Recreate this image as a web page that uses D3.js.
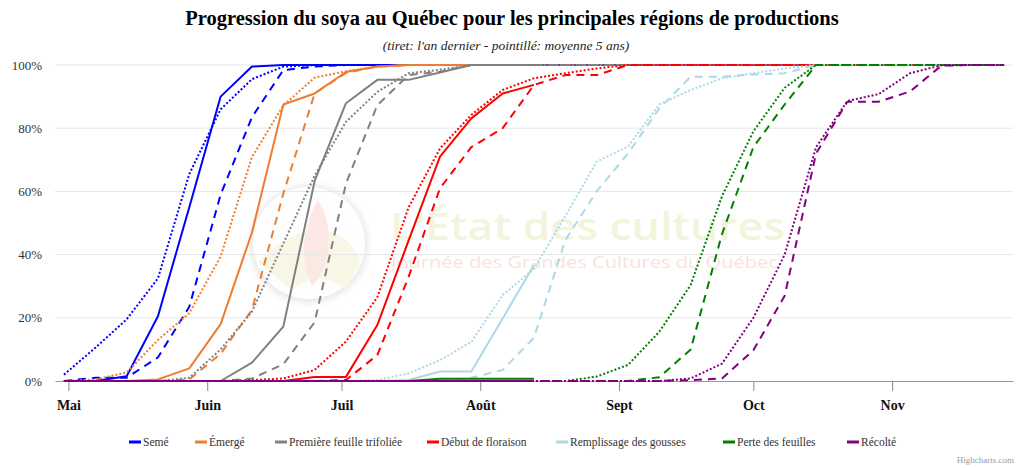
<!DOCTYPE html>
<html>
<head>
<meta charset="utf-8">
<script src="https://cdn.jsdelivr.net/npm/d3@7"></script>
<style>
  body { margin: 0; background: #fff; }
  svg { display: block; font-family: "Liberation Serif", "Times New Roman", serif; }
</style>
</head>
<body>
<svg id="chart" width="1024" height="468"></svg>
<script>
// Relevés hebdomadaires (un point par semaine)
var dates = ["2023-04-30", "2023-05-07", "2023-05-14", "2023-05-21", "2023-05-28",
  "2023-06-04", "2023-06-11", "2023-06-18", "2023-06-25", "2023-07-02", "2023-07-09",
  "2023-07-16", "2023-07-23", "2023-07-30", "2023-08-06", "2023-08-13", "2023-08-20",
  "2023-08-27", "2023-09-03", "2023-09-10", "2023-09-17", "2023-09-24", "2023-10-01",
  "2023-10-08", "2023-10-15", "2023-10-22", "2023-10-29", "2023-11-05", "2023-11-12",
  "2023-11-19", "2023-11-26"];

// Axe des x : un repère au début de chaque mois
var monthTicks = ["2023-05-01", "2023-06-01", "2023-07-01", "2023-08-01", "2023-09-01", "2023-10-01", "2023-11-01"];
var monthLabels = ["Mai", "Juin", "Juil", "Août", "Sept", "Oct", "Nov"];
var yTicks = [0, 20, 40, 60, 80, 100];

var phases = ["Semé", "Émergé", "Première feuille trifoliée", "Début de floraison",
  "Remplissage des gousses", "Perte des feuilles", "Récolté"];

// % cumulatif - année courante (trait plein), l'an dernier (tiret), moyenne 5 ans (pointillé)
var semeCourant = [0, 0, 1.5, 20.5, 55, 90, 99.5, 100, 100, 100, 100, 100, 100, 100, 100, 100];
var semeDernier = [0, 1, 1, 7.5, 23.5, 59, 83.5, 98.4, 99.5, 100, 100, 100, 100, 100, 100, 100,
  100, 100, 100, 100, 100, 100, 100, 100, 100, 100, 100, 100, 100, 100, 100];
var semeMoyenne = [2, 10.5, 19.5, 32.5, 65.5, 86, 95.5, 99.5, 100, 100, 100, 100, 100, 100, 100, 100,
  100, 100, 100, 100, 100, 100, 100, 100, 100, 100, 100, 100, 100, 100, 100];

var emergeCourant = [0, 0, 0, 0.5, 4, 18, 47, 87.5, 91, 97.8, 99.5, 100, 100, 100, 100, 100];
var emergeDernier = [0, 0, 0, 0, 0.5, 8.6, 22.5, 59.3, 91, 97.5, 99.5, 100, 100, 100, 100, 100,
  100, 100, 100, 100, 100, 100, 100, 100, 100, 100, 100, 100, 100, 100, 100];
var emergeMoyenne = [0, 0.5, 2.7, 13, 21.5, 39.4, 70.9, 87.2, 96, 98, 99.5, 100, 100, 100, 100, 100,
  100, 100, 100, 100, 100, 100, 100, 100, 100, 100, 100, 100, 100, 100, 100];

var feuilleCourant = [0, 0, 0, 0, 0, 0, 5.8, 17.2, 63.3, 87.9, 95.3, 95.3, 97.6, 100, 100, 100];
var feuilleDernier = [0, 0, 0, 0, 0, 0, 0.8, 5.3, 18.6, 62.5, 87.3, 96.8, 97.9, 100, 100, 100,
  100, 100, 100, 100, 100, 100, 100, 100, 100, 100, 100, 100, 100, 100, 100];
var feuilleMoyenne = [0, 0, 0, 0, 1, 10, 22, 43.5, 65, 82, 91.5, 97.4, 98.5, 100, 100, 100,
  100, 100, 100, 100, 100, 100, 100, 100, 100, 100, 100, 100, 100, 100, 100];

var floraisonCourant = [0, 0, 0, 0, 0, 0, 0, 0, 1.3, 1.3, 17.7, 44.5, 71, 83.1, 91, 93.7];
var floraisonDernier = [0, 0, 0, 0, 0, 0, 0, 0, 0, 0.3, 8.2, 33, 61, 74, 80, 93.7,
  96.8, 96.8, 100, 100, 100, 100, 100, 100, 100, 100, 100, 100, 100, 100, 100];
var floraisonMoyenne = [0, 0, 0, 0, 0, 0, 0.3, 0.8, 3.5, 12.5, 26.5, 55, 73.6, 84.2, 92.1, 95.8,
  97.4, 98.9, 100, 100, 100, 100, 100, 100, 100, 100, 100, 100, 100, 100, 100];

var gousseCourant = [0, 0, 0, 0, 0, 0, 0, 0, 0, 0, 0, 0.3, 3, 3, 19.8, 36.7];
var gousseDernier = [0, 0, 0, 0, 0, 0, 0, 0, 0, 0, 0, 0, 0, 1, 3.5, 13.7,
  44.6, 60, 72, 86.3, 96.3, 96.3, 97, 97.4, 100, 100, 100, 100, 100, 100, 100];
var gousseMoyenne = [0, 0, 0, 0, 0, 0, 0, 0, 0, 0, 0.3, 2.4, 6.6, 12.4, 27.2, 35.5,
  52.2, 69.4, 74.2, 87.5, 92.1, 95.8, 97.4, 98.9, 100, 100, 100, 100, 100, 100, 100];

var perteCourant = [0, 0, 0, 0, 0, 0, 0, 0, 0, 0, 0, 0, 0.7, 0.7, 0.7, 0.7];
var perteDernier = [0, 0, 0, 0, 0, 0, 0, 0, 0, 0, 0, 0, 0, 0, 0, 0,
  0, 0, 0, 1.2, 10, 46.5, 74, 87.5, 100, 100, 100, 100, 100, 100, 100];
var perteMoyenne = [0, 0, 0, 0, 0, 0, 0, 0, 0, 0, 0, 0, 0, 0, 0, 0,
  0, 1.4, 5.1, 15.6, 30.4, 58.5, 79, 92.8, 100, 100, 100, 100, 100, 100, 100];

var recolteCourant = [0, 0, 0, 0, 0, 0, 0, 0, 0, 0, 0, 0, 0, 0, 0, 0];
var recolteDernier = [0, 0, 0, 0, 0, 0, 0, 0, 0, 0, 0, 0, 0, 0, 0, 0,
  0, 0, 0, 0, 0.3, 0.8, 9.7, 27, 72, 88.4, 88.4, 91.6, 99.8, 100, 100];
var recolteMoyenne = [0, 0, 0, 0, 0, 0, 0, 0, 0, 0, 0, 0, 0, 0, 0, 0,
  0, 0, 0, 0, 0.8, 5.5, 20, 40, 74, 88.6, 90.8, 97.4, 99.9, 100, 100];

var colors = ["#0000ff", "#ed7d31", "#808080", "#ff0000", "#add8e6", "#008000", "#800080"];

// Position des éléments de la légende
var legendX = [129, 195, 275, 427, 556, 723, 847];

var valeurs = [
  [semeCourant, semeDernier, semeMoyenne],
  [emergeCourant, emergeDernier, emergeMoyenne],
  [feuilleCourant, feuilleDernier, feuilleMoyenne],
  [floraisonCourant, floraisonDernier, floraisonMoyenne],
  [gousseCourant, gousseDernier, gousseMoyenne],
  [perteCourant, perteDernier, perteMoyenne],
  [recolteCourant, recolteDernier, recolteMoyenne]
];
var dashes = [null, "8,6", "2,2"];

var parse = d3.timeParse("%Y-%m-%d");
var svg = d3.select("svg#chart");

// Échelles
var x = d3.scaleTime()
  .domain([parse("2023-04-28"), parse("2023-11-28")])
  .range([55, 1013]);
var y = d3.scaleLinear()
  .domain([0, 100])
  .range([381, 65]);

// Filigrane (logo + texte), très pâle
var defs = svg.append("defs");
defs.append("filter").attr("id", "flou")
  .append("feGaussianBlur").attr("stdDeviation", 3);

var wm = svg.append("g").attr("class", "watermark");
wm.append("circle")
  .attr("cx", 309).attr("cy", 244).attr("r", 59)
  .attr("fill", "#e9e9e9")
  .attr("filter", "url(#flou)");
wm.append("circle")
  .attr("cx", 309).attr("cy", 243).attr("r", 56)
  .attr("fill", "#fefefe");
wm.append("path")
  .attr("d", "M258,262 Q286,232 318,230 Q350,232 360,262 L346,290 Q320,268 292,290 Z")
  .attr("fill", "#f8f7e6");
wm.append("path")
  .attr("d", "M318,200 Q334,224 326,262 Q320,280 312,286 Q300,262 306,232 Q310,212 318,200 Z")
  .attr("fill", "#fbe8e4");
wm.append("text")
  .attr("x", 390).attr("y", 240)
  .attr("textLength", 395)
  .attr("lengthAdjust", "spacingAndGlyphs")
  .style("font-family", "'Open Sans', sans-serif")
  .style("font-weight", 600)
  .style("font-size", "38px")
  .attr("fill", "#f4f3dc")
  .text("L'État des cultures");
wm.append("text")
  .attr("x", 391).attr("y", 268)
  .attr("textLength", 387)
  .attr("lengthAdjust", "spacingAndGlyphs")
  .style("font-family", "'Open Sans', sans-serif")
  .style("font-size", "16px")
  .attr("fill", "#fbe2dc")
  .text("Journée des Grandes Cultures du Québec");

// Lignes de grille
svg.append("g").selectAll("line.grid")
  .data(yTicks.filter(d => d > 0))
  .enter().append("line")
  .attr("class", "grid")
  .attr("x1", 55).attr("x2", 1013)
  .attr("y1", d => y(d)).attr("y2", d => y(d))
  .attr("stroke", "#e6e6e6");

// Axe des y
var yAxis = svg.append("g")
  .attr("transform", "translate(55,0)")
  .call(d3.axisLeft(y).tickValues(yTicks).tickFormat(d => d + "%").tickSize(0).tickPadding(13));
yAxis.select(".domain").remove();
yAxis.selectAll("text")
  .style("font-family", "'Liberation Serif', serif")
  .style("font-size", "13px")
  .attr("fill", "#333");

// Axe des x
var xAxis = svg.append("g")
  .attr("transform", "translate(0,381)")
  .call(d3.axisBottom(x).tickValues(monthTicks.map(parse)).tickFormat((d, i) => monthLabels[i]).tickSize(10).tickPadding(9).tickSizeOuter(0));
xAxis.select(".domain").attr("stroke", "#999");
xAxis.selectAll(".tick line").attr("stroke", "#888");
xAxis.selectAll("text")
  .style("font-family", "'Liberation Serif', serif")
  .style("font-size", "14px")
  .style("font-weight", "bold")
  .attr("fill", "#111");

// Séries
var line = d3.line()
  .x((d, i) => x(parse(dates[i])))
  .y(d => y(d));

var series = [];
phases.forEach(function(p, k) {
  valeurs[k].forEach(function(v, j) {
    series.push({ name: p, color: colors[k], dash: dashes[j], values: v });
  });
});

svg.append("g").selectAll("path.serie")
  .data(series)
  .enter().append("path")
  .attr("class", "serie")
  .attr("d", d => line(d.values))
  .attr("fill", "none")
  .attr("stroke", d => d.color)
  .attr("stroke-width", 2)
  .attr("stroke-linejoin", "round")
  .attr("stroke-dasharray", d => d.dash);

// Légende
var legend = svg.append("g").selectAll("g.legend")
  .data(phases)
  .enter().append("g")
  .attr("class", "legend")
  .attr("transform", (d, i) => "translate(" + legendX[i] + ",442)");
legend.append("line")
  .attr("x1", 0).attr("x2", 12)
  .attr("stroke", (d, i) => colors[i])
  .attr("stroke-width", 3);
legend.append("text")
  .attr("x", 14).attr("y", 4)
  .style("font-size", "11.5px")
  .attr("fill", "#333")
  .text(d => d);

// Titres
svg.append("text")
  .attr("x", 512).attr("y", 25)
  .attr("text-anchor", "middle")
  .style("font-size", "20.5px")
  .style("font-weight", "bold")
  .attr("fill", "#000")
  .text("Progression du soya au Québec pour les principales régions de productions");
svg.append("text")
  .attr("x", 506).attr("y", 50)
  .attr("text-anchor", "middle")
  .style("font-size", "13.5px")
  .style("font-style", "italic")
  .attr("fill", "#222")
  .text("(tiret: l'an dernier - pointillé: moyenne 5 ans)");

svg.append("text")
  .attr("x", 1014).attr("y", 463)
  .attr("text-anchor", "end")
  .style("font-size", "9px")
  .attr("fill", "#999")
  .text("Highcharts.com");
</script>
</body>
</html>
